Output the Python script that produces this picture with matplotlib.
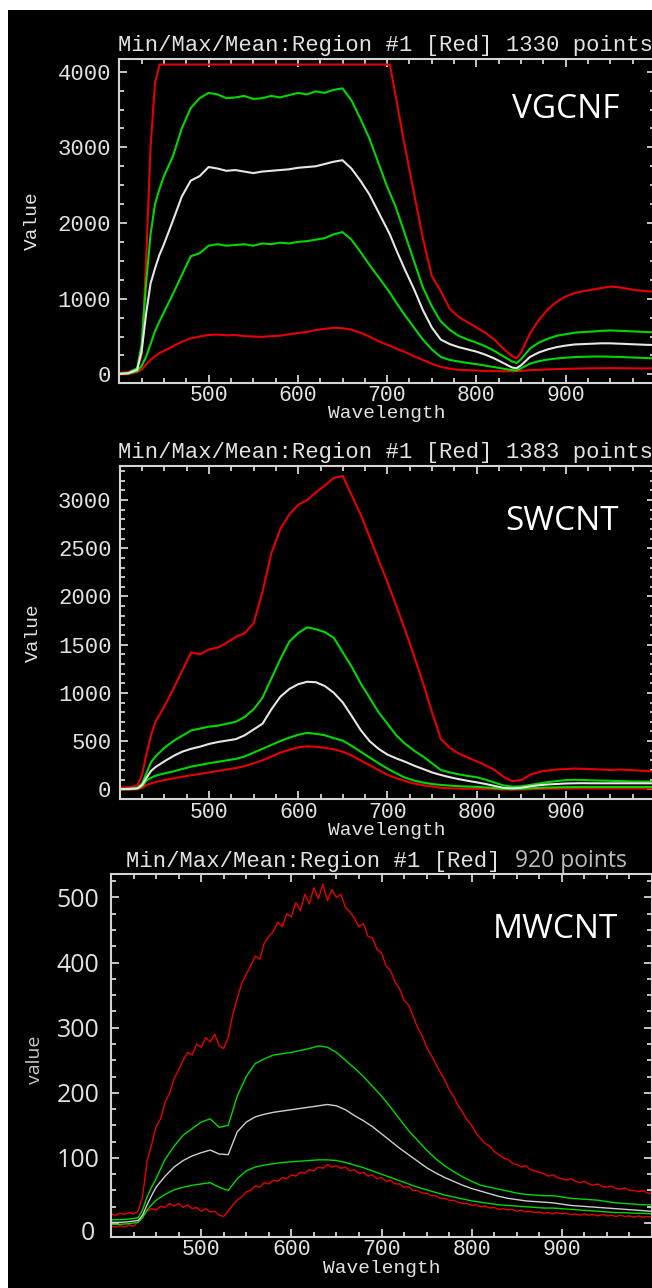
import matplotlib
matplotlib.use("Agg")
import matplotlib.pyplot as plt
from matplotlib.patches import Rectangle
from matplotlib.ticker import MultipleLocator, FixedLocator, FuncFormatter

# ---------------- data ----------------
# Panel 1 : VGCNF
WL1 = [400, 410, 420, 425, 430, 435, 440, 445,
       450, 460, 470, 480, 490, 500, 510, 520, 530, 540, 550, 560, 570, 580, 590,
       600, 610, 620, 630, 640, 650, 660, 670, 680, 690, 700, 703,
       710, 720, 730, 740, 750, 760, 770, 780, 790, 800, 810, 820, 830, 840, 845,
       850, 860, 870, 880, 890, 900, 910, 920, 930, 940, 950, 960, 970, 980, 990, 1000]
MAX1 = [20, 30, 80, 250, 1500, 3000, 3850, 4095,
        4095, 4095, 4095, 4095, 4095, 4095, 4095, 4095, 4095, 4095, 4095, 4095, 4095, 4095, 4095,
        4095, 4095, 4095, 4095, 4095, 4095, 4095, 4095, 4095, 4095, 4095, 4095,
        3650, 3000, 2400, 1800, 1300, 1100, 870, 760, 690, 620, 550, 460, 340, 240, 210,
        290, 540, 720, 860, 960, 1030, 1075, 1100, 1120, 1140, 1160, 1150, 1130, 1110, 1100, 1090]
UPG1 = [10, 20, 80, 400, 1200, 1850, 2250, 2450,
        2620, 2880, 3250, 3520, 3650, 3720, 3700, 3650, 3660, 3680, 3640, 3650, 3680, 3660, 3690,
        3720, 3700, 3740, 3720, 3760, 3780, 3620, 3380, 3120, 2800, 2480, 2400,
        2200, 1850, 1500, 1150, 900, 700, 590, 510, 460, 420, 370, 310, 240, 170, 150,
        200, 340, 420, 470, 510, 530, 550, 560, 565, 575, 580, 575, 570, 565, 560, 555]
MEAN1 = [5, 15, 60, 300, 800, 1200, 1400, 1580,
         1720, 2030, 2350, 2560, 2620, 2740, 2720, 2690, 2700, 2680, 2660, 2680, 2690, 2700, 2710,
         2730, 2740, 2750, 2780, 2810, 2830, 2720, 2560, 2380, 2150, 1920, 1850,
         1650, 1380, 1130, 850, 620, 460, 400, 360, 330, 300, 260, 210, 150, 90, 80,
         120, 230, 290, 330, 360, 380, 395, 400, 405, 410, 410, 405, 400, 395, 390, 388]
LOWG1 = [5, 10, 40, 110, 230, 400, 570, 700,
         820, 1060, 1310, 1560, 1600, 1700, 1720, 1700, 1710, 1720, 1700, 1730, 1720, 1740, 1730,
         1750, 1760, 1780, 1800, 1850, 1880, 1780, 1620, 1450, 1290, 1130, 1080,
         950, 780, 620, 460, 330, 230, 190, 170, 150, 135, 115, 95, 75, 55, 50,
         80, 140, 175, 195, 210, 220, 228, 232, 235, 235, 233, 230, 225, 220, 215, 211]
MIN1 = [0, 0, 30, 60, 130, 190, 240, 280,
        310, 370, 430, 475, 500, 520, 525, 515, 520, 505, 500, 495, 505, 510, 530,
        545, 560, 585, 600, 615, 610, 590, 550, 500, 440, 390, 380,
        340, 295, 240, 190, 140, 100, 75, 60, 55, 50, 45, 45, 40, 40, 40,
        45, 55, 60, 65, 70, 72, 75, 78, 80, 80, 82, 80, 80, 78, 78, 79]

# Panel 2 : SWCNT
WL2 = [400, 410, 420, 425, 430, 435, 440,
       450, 460, 470, 480, 490, 500, 510, 520, 530, 540, 550, 560, 570, 580, 590,
       600, 610, 620, 630, 640, 650, 660, 670, 680, 690, 700, 710, 720, 730, 740,
       750, 760, 770, 780, 790, 800, 810, 820, 830, 840, 850, 860, 870, 880, 890,
       900, 910, 920, 930, 940, 950, 960, 970, 980, 990, 1000]
MAX2 = [20, 20, 40, 150, 370, 560, 700,
        860, 1040, 1230, 1420, 1400, 1450, 1470, 1520, 1580, 1620, 1720, 2050, 2450, 2700, 2850,
        2950, 3000, 3080, 3150, 3230, 3250, 3050, 2850, 2620, 2380, 2150, 1900, 1650, 1380, 1100,
        800, 520, 430, 370, 330, 290, 250, 200, 130, 85, 95, 150, 180, 195, 205,
        210, 215, 212, 208, 205, 200, 205, 200, 195, 190, 185]
UPG2 = [5, 5, 15, 60, 170, 280, 340,
        430, 500, 555, 610, 630, 650, 660, 680, 700, 750, 830, 950, 1150, 1350, 1530,
        1620, 1680, 1660, 1630, 1570, 1420, 1270, 1100, 950, 800, 680, 560, 470, 400, 340,
        270, 200, 175, 155, 138, 125, 100, 70, 40, 28, 30, 45, 60, 75, 85,
        95, 98, 96, 92, 90, 88, 85, 82, 80, 80, 79]
MEAN2 = [2, 3, 10, 45, 120, 190, 230,
         290, 345, 390, 420, 442, 470, 490, 505, 520, 560, 620, 680, 830, 960, 1040,
         1090, 1115, 1110, 1070, 1000, 900, 760, 615, 500, 420, 360, 320, 285, 245, 210,
         175, 148, 125, 105, 88, 72, 55, 35, 15, 10, 15, 30, 42, 50, 55,
         60, 62, 63, 62, 62, 62, 62, 62, 62, 62, 62]
LOWG2 = [0, 0, 8, 30, 90, 120, 140,
         165, 185, 210, 235, 252, 270, 285, 300, 315, 340, 380, 420, 460, 500, 535,
         565, 585, 575, 560, 530, 505, 450, 390, 330, 270, 215, 165, 120, 90, 70,
         55, 45, 38, 32, 28, 25, 20, 12, 5, 3, 5, 10, 15, 18, 20,
         22, 23, 24, 24, 24, 24, 24, 24, 24, 24, 24]
MIN2 = [-5, -5, 0, 15, 44, 60, 75,
        96, 112, 130, 145, 159, 175, 190, 205, 220, 240, 270, 300, 340, 380, 410,
        435, 445, 440, 430, 415, 390, 350, 300, 250, 200, 150, 115, 85, 60, 42,
        30, 15, 10, 8, 5, 5, 3, 0, -3, -5, -3, 0, 3, 5, 6,
        8, 8, 8, 8, 8, 8, 8, 8, 8, 8, 8]

# Panel 3 : MWCNT
WL3 = [400, 410, 420, 430, 435, 440, 445,
       450, 460, 470, 480, 490, 500, 510, 520, 530, 540, 550, 560, 570, 580, 590,
       600, 610, 620, 630, 640, 650, 660, 670, 680, 690, 700, 710, 720, 730, 740,
       750, 760, 770, 780, 790, 800, 810, 820, 830, 840, 850, 860, 870, 880, 890,
       900, 910, 920, 930, 940, 950, 960, 970, 980, 990, 1000]
UPG3 = [5, 5, 6, 8, 20, 40, 55,
        68, 98, 118, 135, 145, 155, 160, 147, 150, 195, 225, 245, 252, 258, 260,
        262, 265, 268, 272, 270, 262, 250, 238, 225, 210, 195, 178, 160, 142, 127,
        112, 99, 88, 79, 71, 64, 58, 55, 52, 49, 46, 44, 43, 42, 42,
        40, 38, 37, 36, 35, 33, 31, 30, 29, 28, 28]
MEAN3 = [1, 1, 2, 4, 12, 28, 42,
         55, 72, 86, 96, 103, 108, 112, 106, 105, 140, 155, 163, 167, 170, 172,
         174, 176, 178, 180, 182, 180, 174, 165, 157, 148, 137, 126, 115, 105, 95,
         85, 77, 70, 64, 58, 53, 49, 45, 41, 38, 36, 34, 33, 32, 31,
         29, 27, 26, 25, 24, 23, 22, 21, 20, 19, 18]
LOWG3 = [-2, -2, -1, 1, 8, 20, 28,
         35, 44, 51, 55, 58, 60, 62, 55, 50, 68, 80, 86, 89, 91, 93,
         94, 95, 96, 97, 97, 96, 93, 89, 85, 80, 75, 70, 65, 60, 55,
         51, 47, 43, 40, 37, 34, 32, 30, 28, 27, 26, 25, 24, 23, 23,
         22, 21, 20, 19, 18, 17, 16, 16, 15, 15, 14]
WL3R = list(range(400, 1001, 5))
MAX3 = [14, 12, 15, 13, 16, 14, 18, 40, 95, 120,
        148, 160, 185, 200, 222, 235, 250, 262, 258, 275,
        270, 285, 278, 290, 272, 268, 285, 320, 345, 368,
        382, 395, 410, 405, 430, 440, 448, 462, 455, 475,
        470, 492, 480, 505, 490, 515, 498, 520, 495, 512,
        500, 505, 485, 478, 468, 455, 460, 440, 438, 420,
        415, 395, 388, 370, 360, 342, 335, 318, 300, 288,
        270, 258, 245, 232, 220, 205, 195, 180, 170, 158,
        150, 138, 130, 122, 118, 110, 105, 100, 98, 92,
        90, 86, 88, 82, 80, 78, 76, 72, 74, 70,
        68, 66, 68, 64, 62, 64, 60, 58, 60, 56,
        55, 57, 53, 52, 54, 50, 50, 48, 50, 46,
        45]
MIN3 = [-5, -6, -4, -6, -3, -5, 2, 12, 18, 22,
        20, 26, 24, 30, 26, 30, 24, 28, 22, 24,
        18, 22, 17, 18, 12, 10, 18, 28, 35, 40,
        48, 50, 57, 55, 62, 60, 66, 64, 70, 68,
        74, 72, 78, 76, 82, 80, 86, 84, 90, 86,
        88, 84, 86, 80, 82, 76, 78, 72, 74, 68,
        70, 64, 66, 60, 60, 55, 56, 50, 50, 46,
        46, 42, 42, 38, 38, 35, 35, 32, 30, 30,
        27, 28, 25, 26, 23, 24, 21, 22, 20, 21,
        18, 20, 17, 18, 16, 17, 15, 16, 14, 16,
        14, 15, 13, 14, 12, 14, 12, 13, 11, 13,
        11, 12, 10, 12, 10, 11, 9, 11, 9, 10,
        9]

TITLE_HEAD = "Min/Max/Mean:Region #1 [Red]"
POINTS = ["1330 points", "1383 points", "920 points"]
NAMES = ["VGCNF", "SWCNT", "MWCNT"]
XTICKS = [500, 600, 700, 800, 900]

# ---------------- style ----------------
W, H, DPI = 652, 1288, 100
HERS = "Liberation Mono"
SANS = "Open Sans"
FG = "#e2e2e2"
AXC = "#d4d4d4"
RED = "#e80000"
GRN = "#00d800"
WHT = "#e6e6e6"

fig = plt.figure(figsize=(W / DPI, H / DPI), dpi=DPI, facecolor="white")
fig.patches.append(Rectangle((8 / W, 0), (W - 8) / W, (H - 10) / H,
                             transform=fig.transFigure, facecolor="black",
                             edgecolor="none", zorder=-10))


def px_axes(l, t, r, b):
    return fig.add_axes([l / W, 1 - b / H, (r - l) / W, (b - t) / H])


def ftext(x, y, s, **kw):
    return fig.text(x / W, 1 - y / H, s, **kw)


def style(ax, ylim, ymaj, ymin_, lw_sp=1.5):
    ax.set_facecolor("black")
    ax.set_xlim(400, 1000)
    ax.set_ylim(*ylim)
    for sp in ax.spines.values():
        sp.set_color(AXC)
        sp.set_linewidth(lw_sp)
    ax.xaxis.set_major_locator(FixedLocator(XTICKS))
    ax.xaxis.set_minor_locator(MultipleLocator(25))
    ax.yaxis.set_major_locator(MultipleLocator(ymaj))
    ax.yaxis.set_minor_locator(MultipleLocator(ymin_))
    ax.tick_params(which="both", direction="in", top=True, right=True,
                   colors=AXC, width=1.3, labelcolor=FG)
    ax.tick_params(which="major", length=5.5)
    ax.tick_params(which="minor", length=3.3)
    ax.tick_params(axis="x", pad=2.0, labelsize=15.5, labelfontfamily=HERS)
    ax.tick_params(axis="y", pad=6, labelsize=16, labelfontfamily=HERS)


def draw(ax, wl, mx, ug, mean, lg, mn, lw, wl_r=None, white=WHT):
    wr = wl if wl_r is None else wl_r
    ax.plot(wr, mx, color=RED, lw=lw)
    ax.plot(wr, mn, color=RED, lw=lw)
    ax.plot(wl, ug, color=GRN, lw=lw)
    ax.plot(wl, lg, color=GRN, lw=lw)
    ax.plot(wl, mean, color=white, lw=lw)


# Panel 1
ax1 = px_axes(119.3, 59, 655, 382.5)
style(ax1, (-108, 4168), 1000, 250)
draw(ax1, WL1, MAX1, UPG1, MEAN1, LOWG1, MIN1, 1.5)

# Panel 2
ax2 = px_axes(119.8, 466, 655, 799.3)
style(ax2, (-104, 3353), 500, 100)
draw(ax2, WL2, MAX2, UPG2, MEAN2, LOWG2, MIN2, 1.5)

# Panel 3
ax3 = px_axes(111, 874, 652, 1236.7)
style(ax3, (-21, 536), 100, 25)
ax3.tick_params(axis="y", pad=8.5, labelsize=18, labelfontfamily=SANS)
ax3.yaxis.set_major_formatter(FuncFormatter(lambda v, p: "" if abs(v) < 1e-9 else f"{v:g}"))
draw(ax3, WL3, MAX3, UPG3, MEAN3, LOWG3, MIN3, 1.0, wl_r=WL3R, white="#cfcfcf")
ftext(95, 1233, "0", ha="right", va="center", family=SANS, size=18, color=FG)

# titles
ftext(118, 51, TITLE_HEAD + " " + POINTS[0], ha="left", va="baseline",
      family=HERS, size=16, color=FG)
ftext(118, 458, TITLE_HEAD + " " + POINTS[1], ha="left", va="baseline",
      family=HERS, size=16, color=FG)
ftext(126, 867, TITLE_HEAD, ha="left", va="baseline", family=HERS, size=16, color=FG)
ftext(515, 867, POINTS[2], ha="left", va="baseline", family=SANS, size=16.5,
      color="#bcbcbc")

# axis labels
for cx, by in [(387, 418), (387, 835), (381.5, 1273)]:
    ftext(cx, by, "Wavelength", ha="center", va="baseline", family=HERS,
          size=14, color=FG)
ftext(32, 221, "Value", rotation=90, ha="center", va="center", family=HERS,
      size=14, color=FG)
ftext(33.5, 633, "Value", rotation=90, ha="center", va="center", family=HERS,
      size=14, color=FG)
ftext(35, 1060, "value", rotation=90, ha="center", va="center", family=SANS,
      size=14, color="#c4c4c4")

# sample names
for (cx, cy), name in zip([(566, 110), (562, 522), (555, 930)], NAMES):
    ftext(cx, cy, name, ha="center", va="center", family=SANS, size=24,
          color="white")

fig.savefig("out.png", dpi=DPI, facecolor="white")
